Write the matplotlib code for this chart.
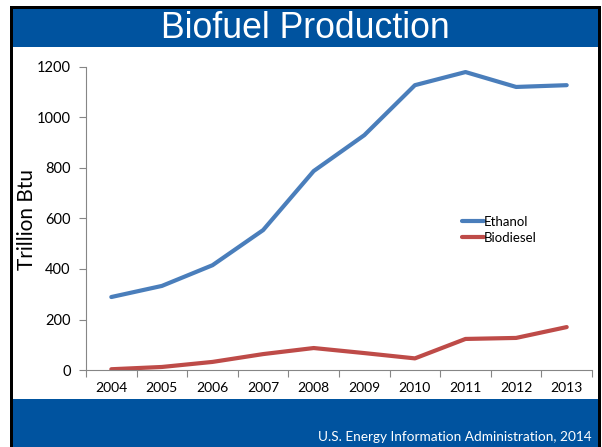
import matplotlib
matplotlib.use("Agg")
import matplotlib.pyplot as plt
from matplotlib.patches import Rectangle

years = ["2004", "2005", "2006", "2007", "2008", "2009", "2010", "2011", "2012", "2013"]
ethanol = [289, 333, 415, 554, 788, 930, 1128, 1180, 1121, 1128]
biodiesel = [3, 12, 32, 63, 87, 67, 46, 123, 127, 170]
yticks = [0, 200, 400, 600, 800, 1000, 1200]

W, H = 602, 447
fig = plt.figure(figsize=(W / 100, H / 100), dpi=100)
fig.patch.set_facecolor("white")

def px_rect(x0, y0, x1, y1, color, z):
    # pixel coords with y from top
    fig.patches.append(Rectangle((x0 / W, 1 - y1 / H), (x1 - x0) / W, (y1 - y0) / H,
                                 transform=fig.transFigure, facecolor=color,
                                 edgecolor="none", zorder=z))

blue = "#00539F"
px_rect(10, 6, 601, 450, "black", -3)
px_rect(13, 9, 598, 450, "white", -2)
px_rect(13, 9, 598, 47, blue, -1)
px_rect(13, 399, 598, 450, blue, -1)

fig.text((13 + 598) / 2 / W, 1 - 29 / H, "Biofuel Production", color="white",
         fontsize=25.7, family="Liberation Sans", ha="center", va="center", zorder=3)
fig.text(592 / W, 1 - 437 / H, "U.S. Energy Information Administration, 2014",
         color="white", fontsize=9.8, family="Lato", ha="right", va="center", zorder=3)
fig.text(27 / W, 1 - 219 / H, "Trillion Btu", color="black", fontsize=15,
         family="Lato", rotation=90, ha="center", va="center", zorder=3)

ax = fig.add_axes([86 / W, 1 - 370 / H, (592 - 86) / W, (370 - 67) / H])
ax.set_zorder(5)
ax.set_facecolor("none")
x = list(range(len(years)))
ax.plot(x, ethanol, color="#4A7EBB", lw=3, label="Ethanol", solid_capstyle="round")
ax.plot(x, biodiesel, color="#BE4B48", lw=3, label="Biodiesel", solid_capstyle="round")
ax.set_xlim(-0.5, len(years) - 0.5)
ax.set_ylim(0, 1200)
ax.set_yticks(yticks)
ax.set_yticklabels([str(v) for v in yticks], family="Lato", fontsize=10.5)
ax.set_xticks(x)
ax.set_xticklabels(years, family="Lato", fontsize=10)
ax.set_xticks([i + 0.5 for i in range(-1, len(years))], minor=True)
ax.tick_params(axis="x", which="major", length=0, pad=9)
ax.tick_params(axis="x", which="minor", length=5, color="#868686", width=0.8)
ax.tick_params(axis="y", length=5, color="#868686", width=0.8, pad=6)
for s in ["top", "right"]:
    ax.spines[s].set_visible(False)
for s in ["left", "bottom"]:
    ax.spines[s].set_color("#868686")
    ax.spines[s].set_linewidth(0.8)

leg = ax.legend(loc="upper left", bbox_to_anchor=((455 - 86) / (592 - 86), (370 - 209) / (370 - 67)),
                frameon=False, prop={"family": "Lato", "size": 9.5},
                handlelength=1.7, handletextpad=0.0, labelspacing=0.3, borderpad=0)

fig.savefig("out.png", dpi=100)
